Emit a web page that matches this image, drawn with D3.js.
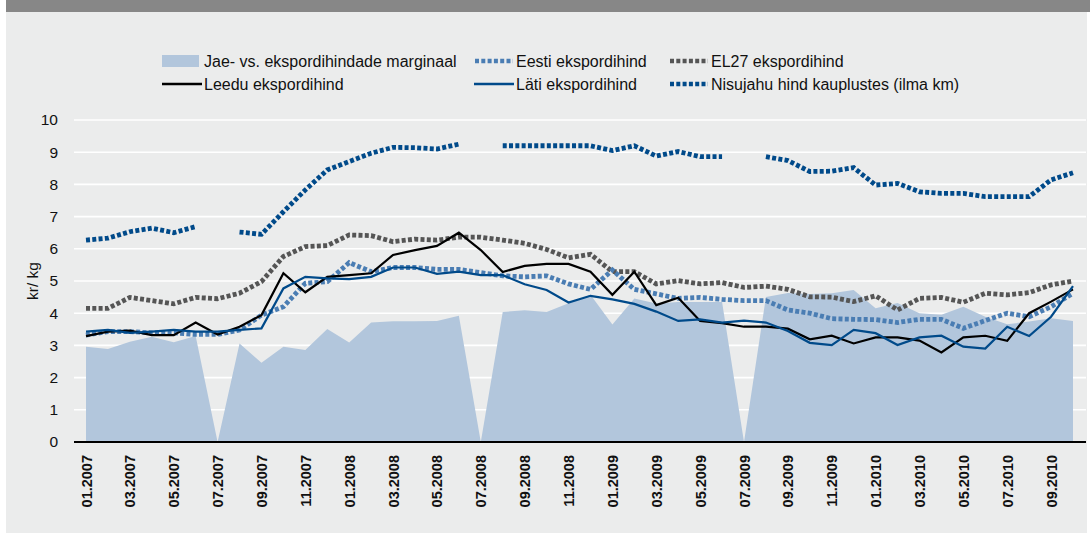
<!DOCTYPE html>
<html>
<head>
<meta charset="utf-8">
<script src="https://cdn.jsdelivr.net/npm/d3@7"></script>
<style>
  body { margin: 0; background: #ffffff; }
  svg { display: block; font-family: "Liberation Sans", Arial, sans-serif; }
</style>
</head>
<body>
<script>
// Figure dimensions
const W = 1090, H = 533;

// Colors
const PANEL = '#ebecec';
const BAR = '#878787';
const AREA_C = '#b2c6dc';
const EESTI_C = '#4a7db3';
const EL27_C = '#555555';
const LEEDU_C = '#000000';
const LATI_C = '#004a8a';
const NISU_C = '#004a8a';

// Months 01.2007 .. 10.2010
const MONTHS = d3.range(46).map(i => {
  const m = (i % 12) + 1, y = 2007 + Math.floor(i / 12);
  return (m < 10 ? '0' + m : '' + m) + '.' + y;
});
const TICK_LABELS = MONTHS.filter((d, i) => i % 2 === 0);
const Y_TICKS = [0, 1, 2, 3, 4, 5, 6, 7, 8, 9, 10];

// Series (kr/kg)
const marginaal = [2.96, 2.89, 3.11, 3.27, 3.10, 3.29, 0, 3.06, 2.46, 2.96, 2.86, 3.51,
  3.09, 3.71, 3.75, 3.75, 3.76, 3.92, 0, 4.04, 4.09, 4.04, 4.31, 4.57,
  3.65, 4.46, 4.30, 4.35, 4.35, 4.35, 0, 4.50, 4.63, 4.60, 4.62, 4.72,
  4.15, 4.32, 4.00, 3.95, 4.20, 3.89, 3.66, 3.74, 3.84, 3.76];
const eesti = [3.32, 3.43, 3.43, 3.39, 3.39, 3.34, 3.34, 3.48, 3.94, 4.20, 4.93, 4.98,
  5.57, 5.29, 5.42, 5.42, 5.36, 5.36, 5.26, 5.16, 5.13, 5.16, 4.91, 4.74,
  5.34, 4.74, 4.60, 4.46, 4.49, 4.43, 4.39, 4.39, 4.10, 4.00, 3.83, 3.81,
  3.80, 3.71, 3.81, 3.81, 3.53, 3.77, 4.00, 3.89, 4.20, 4.62];
const el27 = [4.15, 4.15, 4.49, 4.39, 4.29, 4.49, 4.45, 4.62, 4.98, 5.76, 6.07, 6.10,
  6.43, 6.41, 6.22, 6.30, 6.27, 6.36, 6.36, 6.27, 6.17, 5.98, 5.72, 5.83,
  5.29, 5.29, 4.91, 5.01, 4.91, 4.95, 4.80, 4.84, 4.74, 4.51, 4.50, 4.36,
  4.54, 4.10, 4.46, 4.49, 4.34, 4.62, 4.57, 4.64, 4.88, 5.00];
const leedu = [3.29, 3.43, 3.46, 3.32, 3.32, 3.71, 3.34, 3.58, 3.94, 5.24, 4.65, 5.13,
  5.18, 5.24, 5.81, 5.96, 6.09, 6.50, 5.96, 5.28, 5.47, 5.53, 5.53, 5.29,
  4.57, 5.29, 4.25, 4.48, 3.76, 3.69, 3.58, 3.58, 3.52, 3.19, 3.30, 3.06,
  3.25, 3.25, 3.15, 2.78, 3.25, 3.30, 3.14, 4.00, 4.36, 4.74];
const lati = [3.43, 3.48, 3.39, 3.43, 3.48, 3.43, 3.43, 3.48, 3.53, 4.77, 5.13, 5.08,
  5.06, 5.13, 5.42, 5.42, 5.22, 5.29, 5.18, 5.18, 4.90, 4.72, 4.33, 4.54,
  4.43, 4.29, 4.05, 3.76, 3.81, 3.71, 3.77, 3.71, 3.45, 3.08, 3.01, 3.48,
  3.38, 3.01, 3.25, 3.30, 2.96, 2.90, 3.58, 3.29, 3.89, 4.84];
const nisujahu = [6.27, 6.33, 6.53, 6.64, 6.50, 6.69, null, 6.52, 6.45, 7.15, 7.83, 8.45,
  8.71, 8.97, 9.15, 9.14, 9.10, 9.25, null, 9.20, 9.20, 9.20, 9.20, 9.20,
  9.05, 9.20, 8.88, 9.02, 8.86, 8.86, null, 8.86, 8.74, 8.40, 8.41, 8.52,
  7.98, 8.03, 7.77, 7.72, 7.72, 7.62, 7.62, 7.62, 8.14, 8.36];

// Scales
const x = d3.scalePoint().domain(MONTHS).range([86, 1073]);
const y = d3.scaleLinear().domain([0, 10]).range([442, 120]);
const PLOT_L = 74, PLOT_R = 1086;

const svg = d3.select('body').append('svg')
  .attr('width', W).attr('height', H);

// Background panel and top bar
svg.append('rect').attr('x', 6).attr('y', 0).attr('width', 1081).attr('height', H)
  .attr('fill', PANEL);
svg.append('rect').attr('x', 6).attr('y', 0).attr('width', W - 6).attr('height', 12)
  .attr('fill', BAR);

// Grid
svg.append('g').selectAll('line').data(Y_TICKS.slice(1)).join('line')
  .attr('x1', PLOT_L).attr('x2', PLOT_R)
  .attr('y1', d => y(d)).attr('y2', d => y(d))
  .attr('stroke', '#ffffff').attr('stroke-width', 1.6);

// Area (margin)
const area = d3.area()
  .x((d, i) => x(MONTHS[i]))
  .y0(y(0))
  .y1(d => y(d));
svg.append('path').datum(marginaal)
  .attr('d', area).attr('fill', AREA_C);

// Lines
const line = d3.line()
  .defined(d => d != null)
  .x((d, i) => x(MONTHS[i]))
  .y(d => y(d));

const dotted = (data, color) => svg.append('path').datum(data)
  .attr('d', line).attr('fill', 'none')
  .attr('stroke', color).attr('stroke-width', 4.8)
  .attr('stroke-dasharray', '4,2.3');
const solid = (data, color) => svg.append('path').datum(data)
  .attr('d', line).attr('fill', 'none')
  .attr('stroke', color).attr('stroke-width', 2.2)
  .attr('stroke-linejoin', 'miter');

dotted(el27, EL27_C);
dotted(eesti, EESTI_C);
dotted(nisujahu, NISU_C);
solid(leedu, LEEDU_C);
solid(lati, LATI_C);

// Axis line at zero
svg.append('line')
  .attr('x1', PLOT_L).attr('x2', PLOT_R)
  .attr('y1', y(0)).attr('y2', y(0))
  .attr('stroke', '#000').attr('stroke-width', 2);

// Y axis labels
const yAxis = g => g
  .attr('transform', `translate(${PLOT_L}, 0)`)
  .call(d3.axisLeft(y).tickValues(Y_TICKS).tickSize(0).tickPadding(16))
  .call(g => g.select('.domain').remove())
  .call(g => g.selectAll('text')
    .attr('font-family', '"Liberation Sans", Arial, sans-serif')
    .attr('font-size', 15.5).attr('fill', '#111'));
svg.append('g').call(yAxis);

svg.append('text')
  .attr('transform', `translate(38, ${y(5)}) rotate(-90)`)
  .attr('text-anchor', 'middle')
  .attr('font-size', 15.5).attr('fill', '#111')
  .text('kr/ kg');

// X axis labels
const xAxis = g => g
  .attr('transform', `translate(0, ${y(0)})`)
  .call(d3.axisBottom(x).tickValues(TICK_LABELS).tickSize(0).tickPadding(0))
  .call(g => g.select('.domain').remove())
  .call(g => g.selectAll('text')
    .attr('font-family', '"Liberation Sans", Arial, sans-serif')
    .attr('font-size', 14.5).attr('font-weight', 'bold').attr('fill', '#111')
    .attr('text-anchor', 'end')
    .attr('dy', null)
    .attr('transform', 'translate(5, 13) rotate(-90)'));
svg.append('g').call(xAxis);

// Legend
const legend = svg.append('g').attr('font-size', 16).attr('fill', '#111');
const LEG_ITEMS = [
  { label: 'Jae- vs. ekspordihindade marginaal', type: 'area', color: AREA_C, col: 0, row: 0 },
  { label: 'Eesti ekspordihind', type: 'dot', color: EESTI_C, col: 1, row: 0 },
  { label: 'EL27 ekspordihind', type: 'dot', color: EL27_C, col: 2, row: 0 },
  { label: 'Leedu ekspordihind', type: 'line', color: LEEDU_C, col: 0, row: 1 },
  { label: 'Läti ekspordihind', type: 'line', color: LATI_C, col: 1, row: 1 },
  { label: 'Nisujahu hind kauplustes (ilma km)', type: 'dot', color: NISU_C, col: 2, row: 1 }
];
const colX = [162, 474, 669];
const rowY = [61, 84];
LEG_ITEMS.forEach(it => {
  const lx = colX[it.col], ly = rowY[it.row];
  if (it.type === 'area') {
    legend.append('rect').attr('x', lx).attr('y', ly - 6).attr('width', 37).attr('height', 12)
      .attr('fill', it.color);
  } else if (it.type === 'line') {
    legend.append('line').attr('x1', lx).attr('x2', lx + 40).attr('y1', ly).attr('y2', ly)
      .attr('stroke', it.color).attr('stroke-width', 2.5);
  } else {
    legend.append('line').attr('x1', lx + 1).attr('x2', lx + 39).attr('y1', ly).attr('y2', ly)
      .attr('stroke', it.color).attr('stroke-width', 4.5).attr('stroke-dasharray', '4,2.3');
  }
  legend.append('text').attr('x', lx + 42).attr('y', ly)
    .attr('dy', '0.35em').text(it.label);
});
</script>
</body>
</html>
